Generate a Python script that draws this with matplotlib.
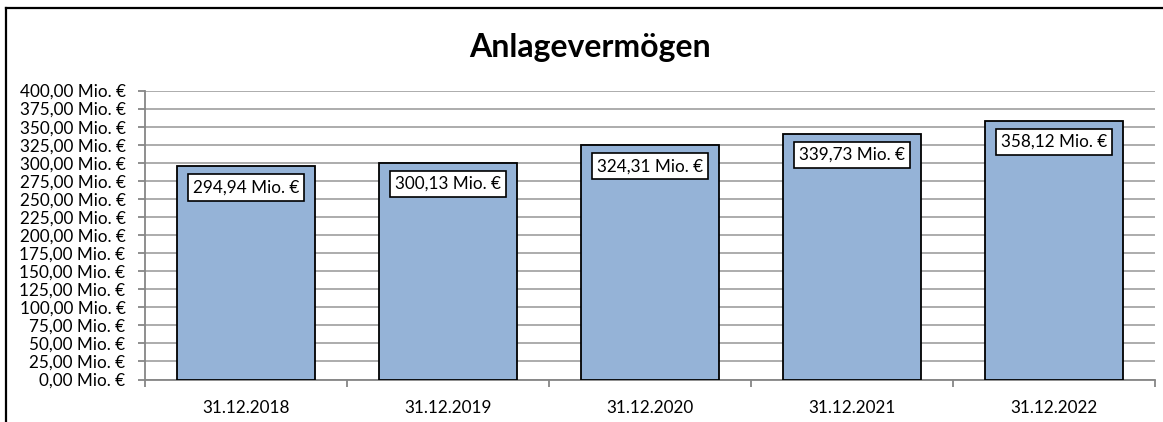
import matplotlib
matplotlib.use("Agg")
import matplotlib.pyplot as plt
from matplotlib.lines import Line2D
from matplotlib.ticker import MultipleLocator, FuncFormatter, FixedLocator

categories = ["31.12.2018", "31.12.2019", "31.12.2020", "31.12.2021", "31.12.2022"]
values = [294.94, 300.13, 324.31, 339.73, 358.12]
title = "Anlagevermögen"

plt.rcParams['font.family'] = ['Lato', 'DejaVu Sans']

def fmt(v):
    return f"{v:,.2f}".replace(",", "X").replace(".", ",").replace("X", ".") + " Mio. €"

fig = plt.figure(figsize=(11.63, 4.22), dpi=100)
ax = fig.add_axes([145/1163, 1 - 379.5/422, (1155-145)/1163, (379.5-90.5)/422])

x = list(range(len(categories)))
ax.bar(x, values, width=0.68, color="#95B3D7", edgecolor="black", linewidth=1.3, zorder=3)

ax.set_xlim(-0.5, len(categories) - 0.5)
ax.set_ylim(0, 400)
ax.yaxis.set_major_locator(MultipleLocator(25))
ax.yaxis.set_major_formatter(FuncFormatter(lambda v, p: fmt(v)))
ax.grid(axis="y", color="#A6A6A6", linewidth=1.3, zorder=0)
ax.set_axisbelow(True)

ax.set_xticks(x)
ax.set_xticklabels(categories)
ax.tick_params(axis="x", which="major", length=0, pad=15, labelsize=12.3)
ax.xaxis.set_minor_locator(FixedLocator([i + 0.5 for i in range(-1, len(categories))]))
ax.tick_params(axis="x", which="minor", length=5, color="#868686", width=1.3)
ax.tick_params(axis="y", length=5, color="#868686", width=1.3, labelsize=12.3, pad=9)

for s in ["top", "right"]:
    ax.spines[s].set_visible(False)
for s in ["left", "bottom"]:
    ax.spines[s].set_color("#868686")
    ax.spines[s].set_linewidth(1.3)

for xi, v in zip(x, values):
    ax.annotate(fmt(v), xy=(xi, v), xytext=(0, -21), textcoords="offset pixels",
                ha="center", va="center", fontsize=12.3, zorder=5,
                bbox=dict(boxstyle="square,pad=0.3", facecolor="white", edgecolor="black", linewidth=1.2))

fig.text(590/1163, 1 - 48/422, title, ha="center", va="center", fontsize=23, fontweight="bold")

fig.add_artist(Line2D([6/1163, 1.0], [1 - 8/422, 1 - 8/422], transform=fig.transFigure, color="black", linewidth=1.6))
fig.add_artist(Line2D([6/1163, 6/1163], [0, 1 - 8/422], transform=fig.transFigure, color="black", linewidth=1.6))

fig.savefig("out.png", dpi=100)
